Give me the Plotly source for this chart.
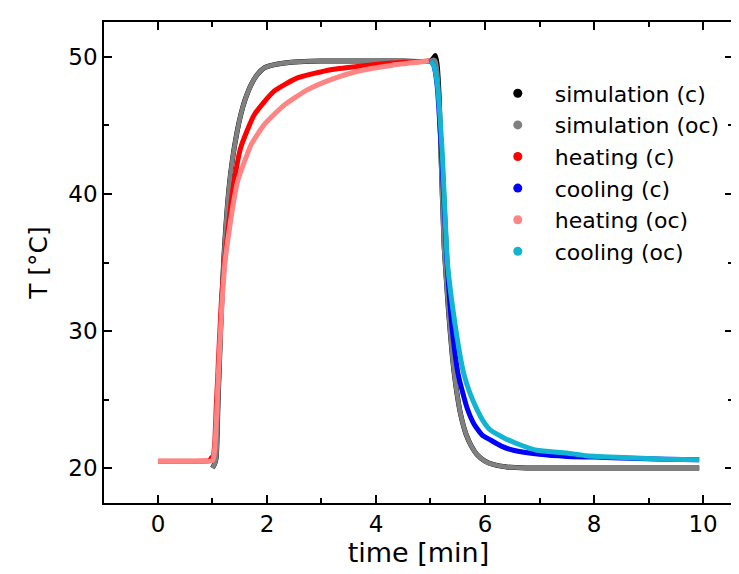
import plotly.graph_objects as go

# ---- data (time in min, temperature in °C) ----
sim_c_t = [1.00, 1.04, 1.07, 1.10, 1.14, 1.18, 1.22, 1.30, 1.37, 1.45, 1.52, 1.60, 1.71, 1.82,
           1.95, 2.10, 2.32, 2.60, 3.00, 3.66, 4.50, 5.00, 5.06, 5.09, 5.12, 5.16, 5.20, 5.25,
           5.33, 5.40, 5.48, 5.56, 5.65, 5.75, 5.85, 6.00, 6.16, 6.40, 6.76, 7.50, 8.50, 9.93]
sim_c_T = [20.0, 20.3, 20.8, 24.5, 29.0, 33.0, 36.1, 40.3, 42.6, 44.5, 45.8, 46.9, 47.98, 48.7,
           49.2, 49.4, 49.56, 49.65, 49.7, 49.7, 49.7, 49.7, 49.95, 50.1, 49.5, 47.0, 42.0, 36.2,
           31.5, 28.2, 25.6, 23.8, 22.5, 21.6, 21.0, 20.5, 20.25, 20.08, 20.0, 20.0, 20.0, 20.0]

sim_oc_t = [1.00, 1.04, 1.07, 1.10, 1.14, 1.18, 1.22, 1.30, 1.37, 1.45, 1.52, 1.60, 1.71, 1.82,
            1.95, 2.10, 2.32, 2.60, 3.00, 3.66, 4.50, 5.00, 5.06, 5.09, 5.12, 5.16, 5.20, 5.25,
            5.33, 5.40, 5.48, 5.56, 5.65, 5.75, 5.85, 6.00, 6.16, 6.40, 6.76, 7.50, 8.50, 9.93]
sim_oc_T = [20.0, 20.3, 20.8, 24.5, 29.0, 33.0, 36.1, 40.3, 42.6, 44.5, 45.8, 46.9, 47.98, 48.7,
            49.2, 49.4, 49.56, 49.65, 49.7, 49.7, 49.7, 49.7, 49.8, 49.7, 49.0, 46.5, 41.5, 36.0,
            31.5, 28.2, 25.6, 23.8, 22.5, 21.6, 21.0, 20.5, 20.25, 20.08, 20.0, 20.0, 20.0, 20.0]

heat_c_t = [0.00, 0.50, 0.95, 0.98, 1.01, 1.04, 1.07, 1.10, 1.16, 1.22, 1.27, 1.37, 1.52, 1.77,
            2.13, 2.56, 3.17, 3.66, 4.30, 4.98]
heat_c_T = [20.5, 20.5, 20.55, 20.75, 20.8, 21.7, 24.5, 27.0, 31.9, 35.0, 36.8, 40.2, 43.4, 45.8,
            47.5, 48.47, 49.07, 49.3, 49.55, 49.7]

cool_c_t = [5.00, 5.06, 5.12, 5.21, 5.30, 5.39, 5.51, 5.67, 5.80, 5.95, 6.09, 6.30, 6.52, 7.00,
            7.50, 8.00, 8.65, 9.30, 9.93]
cool_c_T = [49.7, 49.4, 48.0, 42.5, 35.3, 30.5, 26.8, 24.4, 23.2, 22.4, 22.07, 21.6, 21.3, 21.0,
            20.85, 20.8, 20.72, 20.65, 20.6]

heat_oc_t = [0.00, 0.50, 1.00, 1.03, 1.06, 1.11, 1.17, 1.23, 1.28, 1.37, 1.46, 1.71, 1.95, 2.32,
             2.74, 3.17, 3.66, 4.30, 4.97]
heat_oc_T = [20.5, 20.5, 20.55, 21.0, 22.5, 27.0, 31.7, 35.0, 36.6, 39.0, 40.9, 43.6, 45.06, 46.5,
             47.6, 48.35, 48.96, 49.4, 49.7]

cool_oc_t = [5.00, 5.06, 5.12, 5.21, 5.31, 5.38, 5.45, 5.53, 5.61, 5.72, 5.85, 5.97, 6.09, 6.35,
             6.64, 6.95, 7.50, 7.86, 8.65, 9.30, 9.93]
cool_oc_T = [49.7, 49.4, 48.2, 43.4, 35.0, 32.5, 30.5, 28.5, 26.9, 25.5, 24.3, 23.4, 22.8, 22.2,
             21.7, 21.3, 21.1, 20.9, 20.75, 20.65, 20.6]

series = [
    ("simulation (c)", sim_c_t, sim_c_T, "#000000", 5),
    ("simulation (oc)", sim_oc_t, sim_oc_T, "#808080", 4.5),
    ("heating (c)", heat_c_t, heat_c_T, "#ff0000", 5),
    ("cooling (c)", cool_c_t, cool_c_T, "#0000ff", 5),
    ("heating (oc)", heat_oc_t, heat_oc_T, "#ff8585", 5),
    ("cooling (oc)", cool_oc_t, cool_oc_T, "#12b4d2", 5),
]

fig = go.Figure()
# curves (drawing order: simulations first, then measurements)
for name, t, T, col, w in series:
    fig.add_trace(go.Scatter(x=t, y=T, mode="lines", name=name, showlegend=False,
                             line=dict(color=col, width=w, shape="spline", smoothing=0.5)))
# legend entries shown as dots
for name, t, T, col, w in series:
    fig.add_trace(go.Scatter(x=[None], y=[None], mode="markers", name=name, showlegend=True,
                             marker=dict(color=col, size=9)))

font_family = "DejaVu Sans, Arial, sans-serif"
axis_common = dict(showline=True, linecolor="black", linewidth=1.5, mirror="ticks",
                   ticks="inside", ticklen=8, tickwidth=1.5, tickcolor="black",
                   showgrid=False, zeroline=False,
                   tickfont=dict(family=font_family, size=23, color="black"))

fig.update_layout(
    width=739, height=574,
    margin=dict(l=96, r=12, t=14, b=79),
    paper_bgcolor="white", plot_bgcolor="white",
    font=dict(family=font_family, color="black"),
    xaxis=dict(range=[-0.99, 10.55], dtick=2, tick0=0,
               minor=dict(dtick=1, ticks="inside", ticklen=5, tickwidth=1.5, tickcolor="black"),
               title=dict(text="time [min]", font=dict(size=27, family=font_family), standoff=6),
               **axis_common),
    yaxis=dict(range=[17.45, 52.55], dtick=10, tick0=0,
               minor=dict(dtick=5, ticks="inside", ticklen=5, tickwidth=1.5, tickcolor="black"),
               title=dict(text="T [°C]", font=dict(size=25, family=font_family), standoff=14),
               **axis_common),
    legend=dict(x=0.599, y=0.895, xanchor="left", yanchor="top",
                bgcolor="rgba(0,0,0,0)", borderwidth=0, itemwidth=64,
                font=dict(family=font_family, size=22, color="black"),
                tracegroupgap=0),
)

fig.write_html("out.html")
